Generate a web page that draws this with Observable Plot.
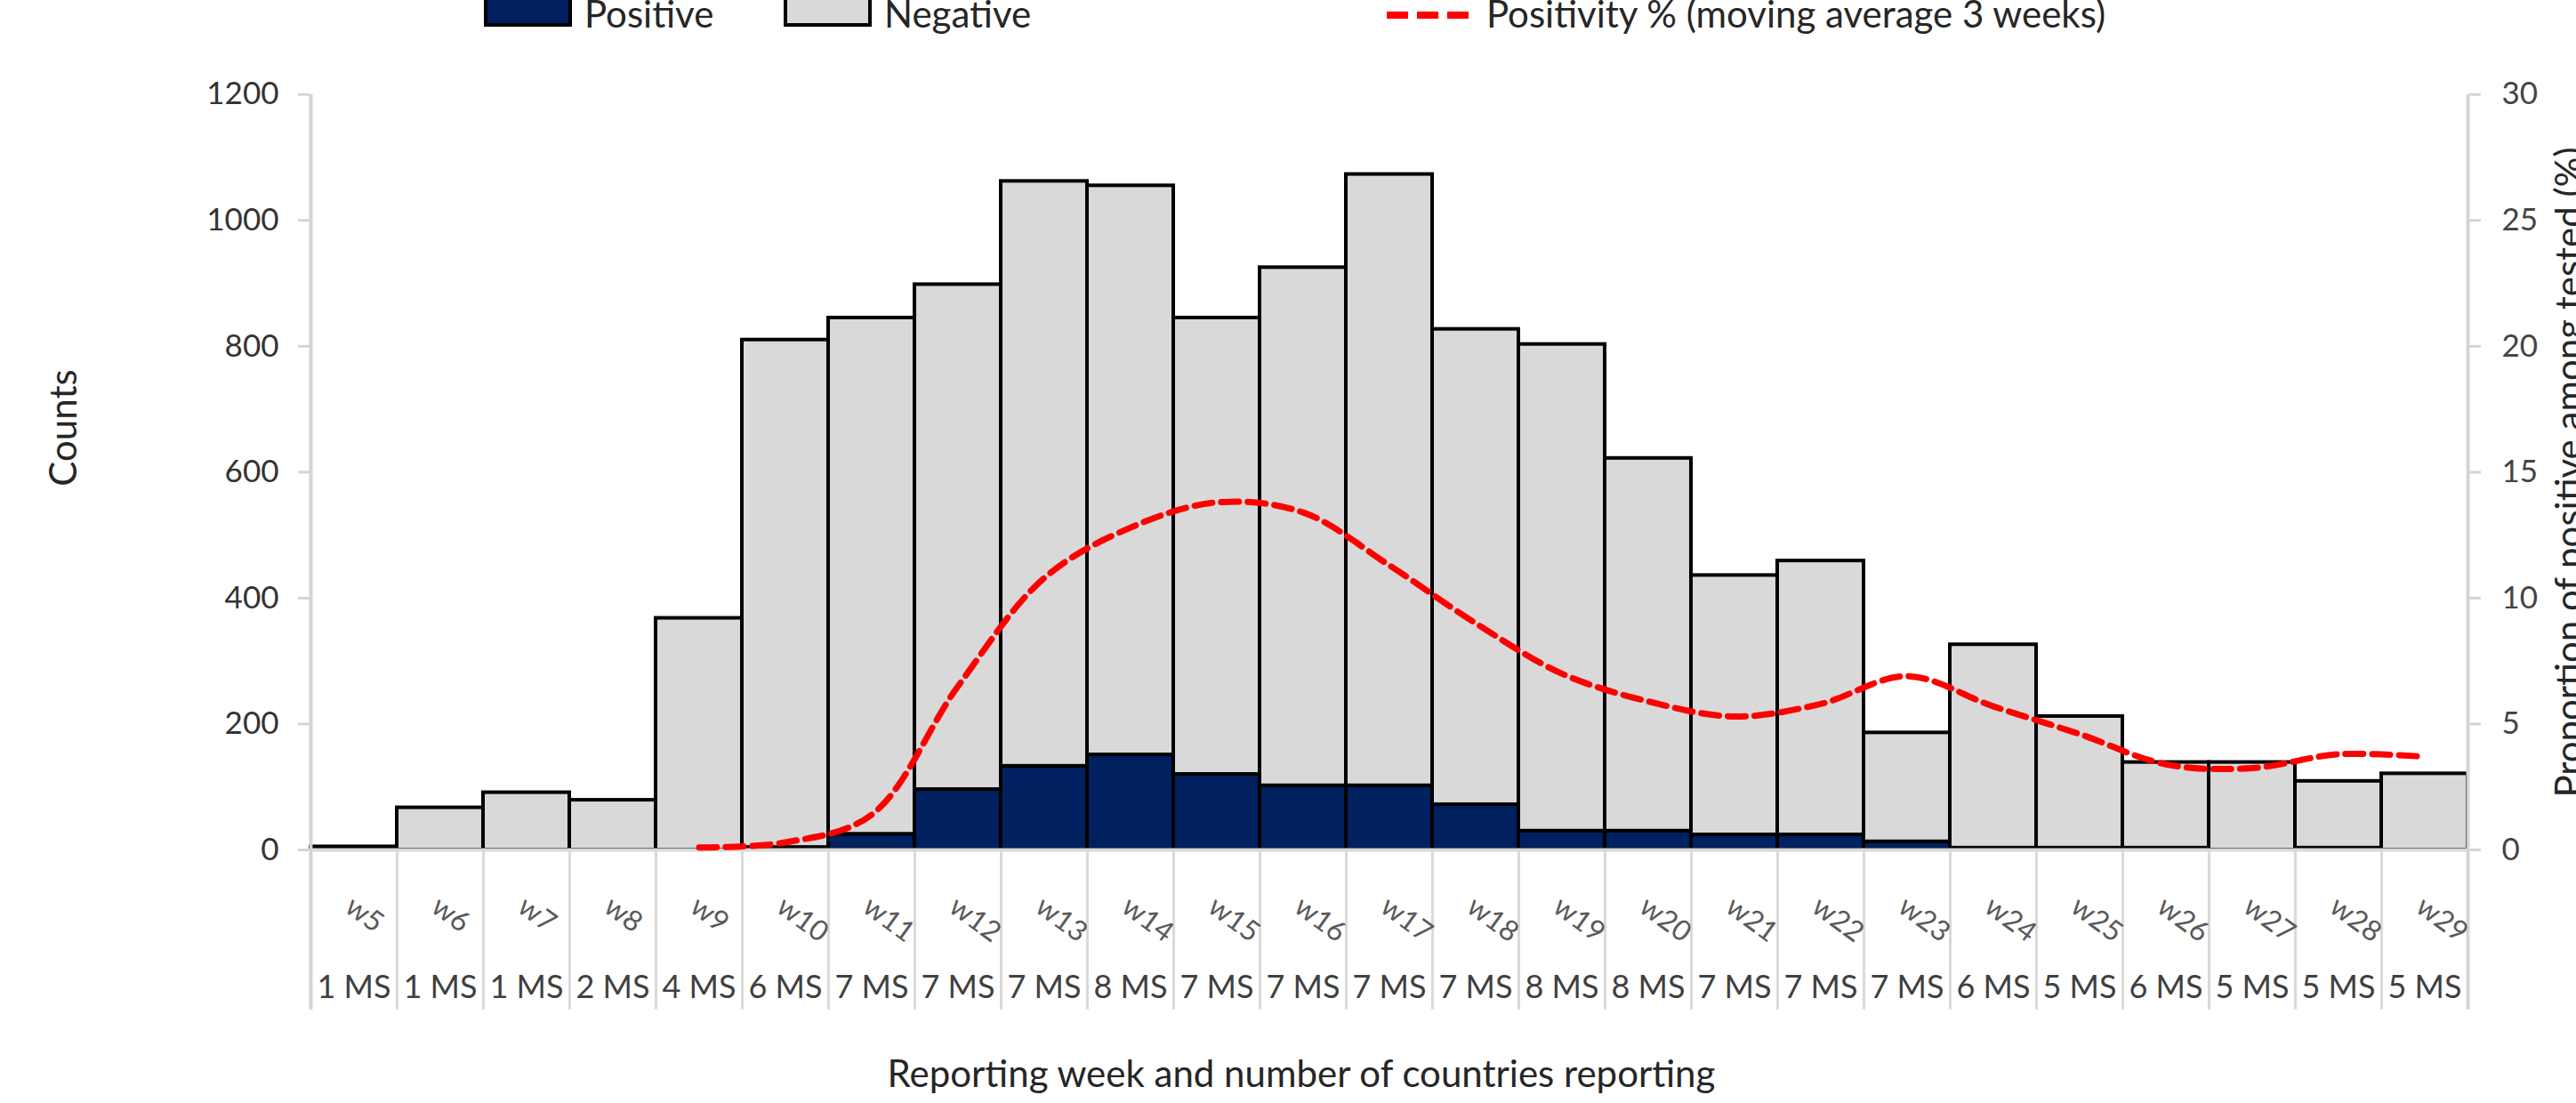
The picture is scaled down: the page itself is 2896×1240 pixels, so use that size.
<!DOCTYPE html>
<html>
<head>
<meta charset="utf-8">
<script src="https://cdn.jsdelivr.net/npm/d3@7"></script>
<script src="https://cdn.jsdelivr.net/npm/@observablehq/plot@0.6"></script>
<style>
  body { margin: 0; background: #fff; font-family: Lato, "Open Sans", sans-serif; }
  #wrap { position: relative; width: 2896px; height: 1240px; overflow: hidden; background: #fff; }
  #legend { display: block; overflow: visible; position: relative; z-index: 2; }
  #chart svg { display: block; }
</style>
</head>
<body>
<div id="wrap">
  <svg id="legend" width="2896" height="36"></svg>
  <div id="chart"></div>
</div>
<script>
// ---- Data ----
const weeks = ["w5","w6","w7","w8","w9","w10","w11","w12","w13","w14","w15","w16","w17",
               "w18","w19","w20","w21","w22","w23","w24","w25","w26","w27","w28","w29"];
const countries = ["1 MS","1 MS","1 MS","2 MS","4 MS","6 MS","7 MS","7 MS","7 MS","8 MS","7 MS","7 MS","7 MS",
                   "7 MS","8 MS","8 MS","7 MS","7 MS","7 MS","6 MS","5 MS","6 MS","5 MS","5 MS","5 MS"];
const positive = [0, 0, 0, 0, 0, 4, 25, 96, 133, 151, 120, 102, 102,
                  72, 30, 30, 24, 24, 13, 3, 3, 3, 0, 3, 0];
const negative = [5, 67, 91, 79, 368, 806, 820, 802, 929, 904, 725, 823, 971,
                  755, 773, 592, 412, 435, 173, 323, 209, 136, 139, 106, 121];
const positivity = [null, null, null, null, 0.1, 0.3, 1.4, 6.5, 10.8, 12.8, 13.8, 13.4, 11.3,
                    9.0, 7.0, 5.9, 5.3, 5.8, 6.9, 5.7, 4.6, 3.4, 3.25, 3.8, 3.7];
const countTicks = [0, 200, 400, 600, 800, 1000, 1200];
const pctTicks = [0, 5, 10, 15, 20, 25, 30];
const seriesNames = ["Positive", "Negative"];
const seriesColors = ["#002060", "#d9d9d9"];
const lineName = "Positivity % (moving average 3 weeks)";

// ---- Build tables ----
const pctToCount = countTicks[countTicks.length - 1] / pctTicks[pctTicks.length - 1];
const bars = [];
weeks.forEach((w, i) => { if (positive[i] > 0) bars.push({week: w, type: "Positive", value: positive[i]}); });
weeks.forEach((w, i) => { if (negative[i] > 0) bars.push({week: w, type: "Negative", value: negative[i]}); });
const lineData = weeks.map((w, i) => ({week: w, pct: positivity[i]})).filter(d => d.pct != null);

const W = 2896, H = 1204;
const mL = 348, mR = 121, mT = 69.7, mB = 285;
const bw = (W - mL - mR) / weeks.length;
const belowAxis = -254; // extent of the category separators below the baseline (in count units)

const chart = Plot.plot({
  width: W, height: H,
  marginLeft: mL, marginRight: mR, marginTop: mT, marginBottom: mB,
  style: {fontFamily: "Lato, 'Open Sans', sans-serif", fontSize: "35px", color: "#3a3a3a", background: "#fff", overflow: "visible"},
  x: {domain: weeks, padding: 0, axis: null},
  y: {domain: [0, 1200], axis: null, label: null},
  color: {domain: seriesNames, range: seriesColors},
  marks: [
    Plot.barY(bars, {x: "week", y: "value", fill: "type", stroke: "#000", strokeWidth: 4}),
    Plot.ruleY([0], {stroke: "#d9d9d9", strokeWidth: 4}),
    Plot.ruleX(weeks.slice(1), {x: d => d, y1: 0, y2: belowAxis, dx: -bw / 2, stroke: "#d9d9d9", strokeWidth: 3}),
    Plot.ruleX([weeks[0]], {x: d => d, y1: belowAxis, y2: 1200, dx: -bw / 2, stroke: "#d4d4d4", strokeWidth: 4}),
    Plot.ruleX([weeks[weeks.length - 1]], {x: d => d, y1: belowAxis, y2: 1200, dx: bw / 2, stroke: "#d4d4d4", strokeWidth: 4}),
    Plot.line(lineData, {x: "week", y: d => d.pct * pctToCount, stroke: "#ff0000", strokeWidth: 7,
                         strokeDasharray: "20,10", curve: "catmull-rom"}),
    Plot.axisY(countTicks, {anchor: "left", label: null, tickFormat: d => String(d), tickSize: 13, tickPadding: 22,
                            stroke: "#d4d4d4", strokeWidth: 3, fill: "#333", fontSize: 35}),
    Plot.axisY(pctTicks.map(v => v * pctToCount), {anchor: "right", label: null, tickFormat: d => String(d / pctToCount),
                            tickSize: 13, tickPadding: 24, stroke: "#d4d4d4", strokeWidth: 3, fill: "#444", fontSize: 35}),
    Plot.text(weeks, {x: d => d, y: 0, text: d => d, rotate: 36, textAnchor: "start", lineAnchor: "middle",
                      dx: -6, dy: 60, fill: "#595959", fontSize: 32}),
    Plot.text(weeks, {x: d => d, y: 0, text: (d, i) => countries[i], lineAnchor: "middle",
                      dy: 155, fill: "#404040", fontSize: 36})
  ]
});
document.getElementById("chart").appendChild(chart);

// axis titles
const svg = d3.select(chart);
svg.append("text").attr("transform", "translate(86,445) rotate(-90)")
  .attr("text-anchor", "middle").attr("font-size", 42).attr("fill", "#262626").text("Counts");
svg.append("text").attr("transform", "translate(2903,495) rotate(-90)")
  .attr("text-anchor", "middle").attr("font-size", 42).attr("fill", "#262626").text("Proportion of positive among tested (%)");
svg.append("text").attr("x", 1463).attr("y", 1186)
  .attr("text-anchor", "middle").attr("font-size", 42).attr("fill", "#262626").text("Reporting week and number of countries reporting");

// legend
const lg = d3.select("#legend").attr("font-family", "Lato, 'Open Sans', sans-serif");
lg.append("rect").attr("x", 546).attr("y", -8).attr("width", 95).attr("height", 36)
  .attr("fill", seriesColors[0]).attr("stroke", "#000").attr("stroke-width", 4);
lg.append("text").attr("x", 657).attr("y", 31).attr("font-size", 42).attr("fill", "#262626").text(seriesNames[0]);
lg.append("rect").attr("x", 883).attr("y", -8).attr("width", 95).attr("height", 36)
  .attr("fill", seriesColors[1]).attr("stroke", "#000").attr("stroke-width", 4);
lg.append("text").attr("x", 994).attr("y", 31).attr("font-size", 42).attr("fill", "#262626").text(seriesNames[1]);
lg.append("line").attr("x1", 1559).attr("x2", 1651).attr("y1", 17).attr("y2", 17)
  .attr("stroke", "#ff0000").attr("stroke-width", 8).attr("stroke-dasharray", "24,10");
lg.append("text").attr("x", 1671).attr("y", 31).attr("font-size", 42).attr("fill", "#262626").text(lineName);
</script>
</body>
</html>
